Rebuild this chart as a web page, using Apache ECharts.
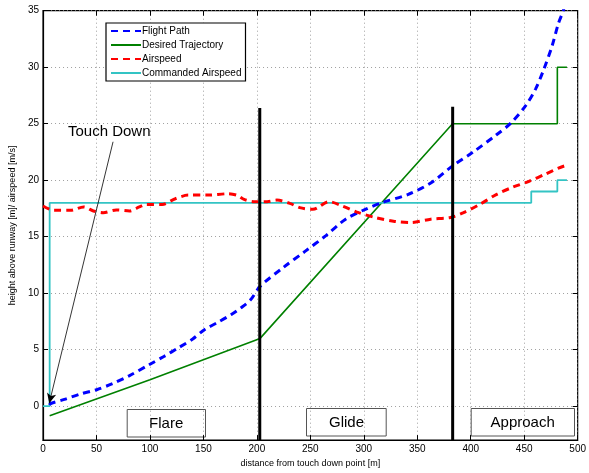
<!DOCTYPE html>
<html><head><meta charset="utf-8">
<script src="https://cdn.jsdelivr.net/npm/echarts@6/dist/echarts.min.js"></script>
<style>html,body{margin:0;padding:0;background:#fff}#c{width:589px;height:473px}</style>
</head><body><div id="c"></div>
<script>
const flightPath = [[6,0.1],[7.3,0.24],[20,0.6],[34.9,1.08],[50.2,1.46],[65,2.0],[80.9,2.71],[99.2,3.67],[113,4.4],[126.8,5.18],[140,5.95],[151.3,6.79],[163,7.4],[175.8,8.1],[185,8.7],[194.1,9.41],[203,10.6],[225,12.3],[245,13.7],[264.6,15.1],[283,16.55],[301.4,17.42],[316.6,18.0],[341.1,18.73],[362.6,19.75],[383.1,21.27],[402.4,22.5],[423.8,24.0],[437.6,25.06],[451.4,26.6],[460.6,28.06],[468.3,29.8],[476,31.85],[482.1,33.9],[486.7,35.05],[490,36.5]];
const desiredTrajectory = [[6.2,-0.85],[100,2.35],[203,6.0],[383,25],[481,25],[481,30],[490,30]];
const airspeed = [[0,17.72],[10.4,17.33],[25.7,17.33],[38,17.63],[47.1,17.28],[56.3,17.13],[68.5,17.37],[80.9,17.28],[90,17.63],[96.1,17.86],[111.4,17.86],[123.7,18.36],[136,18.68],[154.4,18.68],[172.7,18.8],[181.9,18.65],[188,18.3],[197.2,18.1],[209.5,18.1],[218.7,18.24],[230.9,17.95],[240.1,17.57],[252.3,17.42],[267.6,18.1],[279.9,17.72],[295.2,17.13],[310.5,16.7],[328.9,16.35],[344.2,16.26],[362.6,16.55],[381,16.7],[393.2,17.13],[408.5,17.86],[423.8,18.73],[439.2,19.38],[454.5,19.9],[469.8,20.54],[482.1,21.07],[490.7,21.36]];
const commandedAirspeed = [[0,0],[6.2,0],[6.2,18],[456.6,18],[456.6,19],[481,19],[481,20],[490,20]];
const phaseLines = [[[202.7,-3],[202.7,26.4]],[[383.1,-3],[383.1,26.5]]];
const phaseLabels = ['Flare','Glide','Approach'];
const arrowFrom = [65.5,23.4], arrowTo = [5.8,0.26];

const chart = echarts.init(document.getElementById('c'));
const F = 'Liberation Sans, Arial, sans-serif';
const gridLine = {show:true,lineStyle:{color:'#888',type:[1,3],width:0.8}};
const tick = {inside:true,length:5,lineStyle:{color:'#000'}};
const opt = {
  animation:false,
  textStyle:{fontFamily:F},
  grid:{left:38.7,right:6.3,top:10.7,bottom:27.5,show:true,borderColor:'#000',borderWidth:1.2,backgroundColor:'transparent'},
  legend:{
    orient:'vertical',left:106,top:23,itemWidth:30,itemHeight:10,itemGap:4,
    padding:[3,4,3,4],borderColor:'#000',borderWidth:1.2,backgroundColor:'#fff',
    itemStyle:{opacity:0},
    textStyle:{fontSize:10,color:'#000',fontFamily:F,padding:[0,0,0,-4]},
    data:['Flight Path','Desired Trajectory','Airspeed','Commanded Airspeed']
  },
  xAxis:[{type:'value',min:0,max:500,interval:50,
    name:'distance from touch down point [m]',nameLocation:'middle',nameGap:16,
    nameTextStyle:{fontSize:9,color:'#000'},
    axisLine:{show:true,onZero:false,lineStyle:{color:'#000',width:1.2}},
    axisTick:tick,
    axisLabel:{fontSize:10,color:'#000',margin:4},splitLine:gridLine},
    {type:'value',min:0,max:500,interval:50,position:'top',
    axisLine:{show:false,onZero:false},axisTick:tick,axisLabel:{show:false},splitLine:{show:false}}],
  yAxis:[{type:'value',min:-3,max:35,splitNumber:8,
    name:'height above runway [m]/ airspeed [m/s]',nameLocation:'middle',nameGap:25,
    nameTextStyle:{fontSize:9,color:'#000'},
    axisLine:{show:true,onZero:false,lineStyle:{color:'#000',width:1.2}},
    axisTick:tick,
    axisLabel:{fontSize:10,color:'#000',margin:4,formatter:v=>(v%5===0?String(v):'')},splitLine:gridLine},
    {type:'value',min:-3,max:35,splitNumber:8,position:'right',
    axisLine:{show:false,onZero:false},axisTick:tick,axisLabel:{show:false},splitLine:{show:false}}],
  series:[
    {name:'Flight Path',type:'line',data:flightPath,symbol:'none',smooth:0.3,clip:true,z:3,
      lineStyle:{color:'#0000ff',width:3,type:[7,5]},itemStyle:{color:'#0000ff'}},
    {name:'Desired Trajectory',type:'line',data:desiredTrajectory,symbol:'none',z:2,
      lineStyle:{color:'#008000',width:1.6},itemStyle:{color:'#008000'}},
    {name:'Airspeed',type:'line',data:airspeed,symbol:'none',smooth:0.3,z:3,
      lineStyle:{color:'#ff0000',width:3,type:[7,5]},itemStyle:{color:'#ff0000'}},
    {name:'Commanded Airspeed',type:'line',data:commandedAirspeed,symbol:'none',z:2,
      lineStyle:{color:'#33c4c4',width:1.8},itemStyle:{color:'#33c4c4'}},
    ...phaseLines.map(d=>({type:'line',data:d,symbol:'none',z:5,silent:true,
      lineStyle:{color:'#000',width:3}})),
    {type:'line',data:[],z:6,markLine:{silent:true,symbol:['none','arrow'],symbolSize:[7,10],
      lineStyle:{color:'#000',width:0.8,type:'solid'},label:{show:false},
      data:[[{coord:arrowFrom},{coord:arrowTo}]]}}
  ],
  graphic:[
    {type:'text',left:68,top:124,z:10,style:{text:'Touch Down',fontSize:15,fill:'#000',fontFamily:F}},
    {type:'group',left:126.7,top:409,z:10,children:[
      {type:'rect',shape:{x:0,y:0,width:78.3,height:27.5},style:{fill:'#fff',stroke:'#555',lineWidth:1}},
      {type:'text',x:39,y:14,style:{text:phaseLabels[0],fontSize:15,fill:'#000',align:'center',verticalAlign:'middle',fontFamily:F}}]},
    {type:'group',left:306,top:408,z:10,children:[
      {type:'rect',shape:{x:0,y:0,width:79.7,height:27.5},style:{fill:'#fff',stroke:'#555',lineWidth:1}},
      {type:'text',x:40,y:14,style:{text:phaseLabels[1],fontSize:15,fill:'#000',align:'center',verticalAlign:'middle',fontFamily:F}}]},
    {type:'group',left:470.7,top:408,z:10,children:[
      {type:'rect',shape:{x:0,y:0,width:103.3,height:27.5},style:{fill:'#fff',stroke:'#555',lineWidth:1}},
      {type:'text',x:51.5,y:14,style:{text:phaseLabels[2],fontSize:15,fill:'#000',align:'center',verticalAlign:'middle',fontFamily:F}}]}
  ]
};
chart.setOption(opt);
</script></body></html>
